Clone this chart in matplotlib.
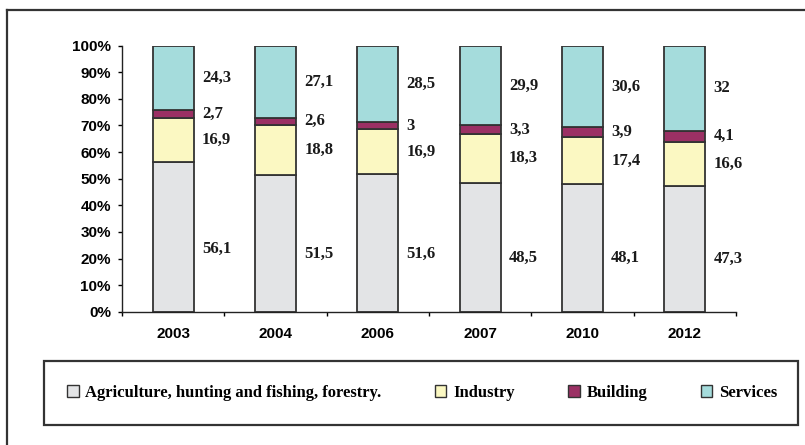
import numpy as np
import matplotlib
matplotlib.use("Agg")
import matplotlib.pyplot as plt
from matplotlib.patches import Rectangle
from matplotlib.lines import Line2D

years = ["2003", "2004", "2006", "2007", "2010", "2012"]
agriculture = [56.1, 51.5, 51.6, 48.5, 48.1, 47.3]
industry = [16.9, 18.8, 16.9, 18.3, 17.4, 16.6]
building = [2.7, 2.6, 3.0, 3.3, 3.9, 4.1]
services = [24.3, 27.1, 28.5, 29.9, 30.6, 32.0]
value_labels = [
    ["56,1", "51,5", "51,6", "48,5", "48,1", "47,3"],
    ["16,9", "18,8", "16,9", "18,3", "17,4", "16,6"],
    ["2,7", "2,6", "3", "3,3", "3,9", "4,1"],
    ["24,3", "27,1", "28,5", "29,9", "30,6", "32"],
]
series_names = ["Agriculture, hunting and fishing, forestry.", "Industry",
                "Building", "Services"]
colors = ["#e3e4e6", "#fbf8c2", "#9b3064", "#a5dcdc"]

W, H = 805, 445
fig = plt.figure(figsize=(W / 100, H / 100), dpi=100)
ax = fig.add_axes([122 / W, 1 - 311.7 / H, 614 / W, 266 / H])

x = np.arange(len(years))
series = [agriculture, industry, building, services]
bottom = np.zeros(len(years))
bw = 0.4
for k, vals in enumerate(series):
    vals = np.array(vals)
    ax.bar(x, vals, bw, bottom=bottom, color=colors[k], edgecolor="#333333",
           linewidth=1.3, label=series_names[k], zorder=2)
    frac = 0.42 if k == 0 else 0.5
    for i in range(len(years)):
        ax.text(x[i] + bw / 2 + 0.08, bottom[i] + vals[i] * frac,
                value_labels[k][i], ha="left", va="center",
                fontsize=12, fontweight="bold", family="Liberation Serif",
                color="#1a1a1a")
    bottom += vals

ax.set_xlim(-0.5, len(years) - 0.5)
ax.set_ylim(0, 100)
ax.set_yticks(np.arange(0, 101, 10))
ax.set_yticklabels([f"{v}%" for v in range(0, 101, 10)],
                   fontsize=11, fontweight="bold", family="Liberation Sans")
ax.set_xticks(x)
ax.set_xticklabels(years, fontsize=11, fontweight="bold", family="Liberation Sans")
ax.set_xticks(np.arange(-0.5, len(years)), minor=True)
ax.tick_params(axis="x", which="major", length=0, pad=11)
ax.tick_params(axis="x", which="minor", length=3, direction="out", width=1)
ax.tick_params(axis="y", length=3, direction="out", width=1, pad=5)
for s in ["top", "right"]:
    ax.spines[s].set_visible(False)
for s in ["left", "bottom"]:
    ax.spines[s].set_linewidth(1)
    ax.spines[s].set_color("#222222")

# outer frame (only left and top edges are visible)
fig.add_artist(Line2D([7 / W, 7 / W], [0, 1 - 10 / H], color="#333333", lw=1.6))
fig.add_artist(Line2D([7 / W, 1], [1 - 10 / H, 1 - 10 / H], color="#333333", lw=1.6))

# legend box
fig.add_artist(Rectangle((44 / W, 1 - 425 / H), (798 - 44) / W, (425 - 361) / H,
                         fill=False, edgecolor="#333333", lw=1.6))
leg = fig.legend(loc="center", bbox_to_anchor=(422 / W, 1 - 393 / H), ncol=4,
                 frameon=False, prop={"family": "Liberation Serif", "weight": "bold",
                                      "size": 12},
                 handlelength=0.7, handleheight=0.7, handletextpad=0.4,
                 columnspacing=3.2)
for h in leg.legend_handles:
    h.set_linewidth(1)

fig.savefig("out.png", dpi=100)
